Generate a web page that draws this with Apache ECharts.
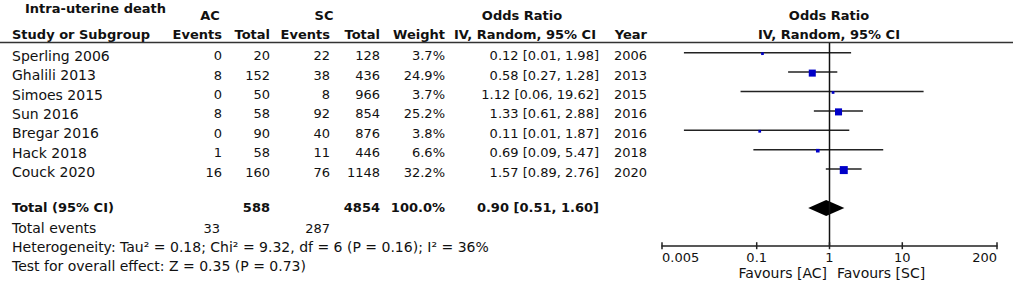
<!DOCTYPE html>
<html>
<head>
<meta charset="utf-8">
<title>Intra-uterine death forest plot</title>
<script src="https://cdn.jsdelivr.net/npm/echarts@6/dist/echarts.min.js"></script>
<style>
  html, body { margin: 0; padding: 0; background: #fff; }
  #chart { width: 1013px; height: 282px; }
</style>
</head>
<body>
<div id="chart"></div>
<script>
  // 研究数据
  let studies = ['Sperling 2006', 'Ghalili 2013', 'Simoes 2015', 'Sun 2016', 'Bregar 2016', 'Hack 2018', 'Couck 2020'];
  let acEvents = [0, 8, 0, 8, 0, 1, 16];
  let acTotal = [20, 152, 50, 58, 90, 58, 160];
  let scEvents = [22, 38, 8, 92, 40, 11, 76];
  let scTotal = [128, 436, 966, 854, 876, 446, 1148];
  let weights = [3.7, 24.9, 3.7, 25.2, 3.8, 6.6, 32.2];
  let oddsRatio = [0.12, 0.58, 1.12, 1.33, 0.11, 0.69, 1.57];
  let ciLow = [0.01, 0.27, 0.06, 0.61, 0.01, 0.09, 0.89];
  let ciHigh = [1.98, 1.28, 19.62, 2.88, 1.87, 5.47, 2.76];
  let years = [2006, 2013, 2015, 2016, 2016, 2018, 2020];

  // 合计
  let totalAC = 588;
  let totalSC = 4854;
  let totalEventsAC = 33;
  let totalEventsSC = 287;
  let totalOR = 0.90;
  let totalLow = 0.51;
  let totalHigh = 1.60;
  let totalRow = 8;

  let axisTicks = [0.005, 0.1, 1, 10, 200];
  let noEffect = 1;

  let chart = echarts.init(document.getElementById('chart'), null, {renderer: 'svg'});
  let font = '"DejaVu Sans", sans-serif';
  let fs = 13;     // 数字
  let fsText = 14; // 文字
  let yMin = -0.5;
  let yMax = 9.95;

  // y pixel of a row in the plot grid (grid top 43, 19.4px per row, min -0.5)
  function rowY(r) {
    return 43 + (r - yMin) * 19.4;
  }

  function txt(x, y, s, align, bold, size) {
    return {
      type: 'text',
      x: x,
      y: y,
      silent: true,
      style: {
        text: s,
        fill: '#111',
        font: (bold ? 'bold ' : '') + (size || fs) + 'px ' + font,
        textAlign: align || 'left',
        textVerticalAlign: 'middle'
      }
    };
  }

  // 表格文字
  let g = [];
  g.push(txt(25, 8, 'Intra-uterine death', 'left', true));
  g.push(txt(210, 15, 'AC', 'center', true));
  g.push(txt(324, 15, 'SC', 'center', true));
  g.push(txt(522, 15, 'Odds Ratio', 'center', true));
  g.push(txt(829, 15, 'Odds Ratio', 'center', true));
  g.push(txt(12, 34, 'Study or Subgroup', 'left', true));
  g.push(txt(222, 34, 'Events', 'right', true));
  g.push(txt(270, 34, 'Total', 'right', true));
  g.push(txt(330, 34, 'Events', 'right', true));
  g.push(txt(380, 34, 'Total', 'right', true));
  g.push(txt(445, 34, 'Weight', 'right', true));
  g.push(txt(525, 34, 'IV, Random, 95% CI', 'center', true));
  g.push(txt(647, 34, 'Year', 'right', true));
  g.push(txt(829, 34, 'IV, Random, 95% CI', 'center', true));

  for (let i = 0; i < studies.length; i++) {
    let y = rowY(i) + 3;
    g.push(txt(12, y, studies[i], 'left', false, fsText));
    g.push(txt(222, y, String(acEvents[i]), 'right'));
    g.push(txt(270, y, String(acTotal[i]), 'right'));
    g.push(txt(330, y, String(scEvents[i]), 'right'));
    g.push(txt(380, y, String(scTotal[i]), 'right'));
    g.push(txt(445, y, weights[i].toFixed(1) + '%', 'right'));
    g.push(txt(599, y, oddsRatio[i].toFixed(2) + ' [' + ciLow[i].toFixed(2) + ', ' + ciHigh[i].toFixed(2) + ']', 'right'));
    g.push(txt(647, y, String(years[i]), 'right'));
  }

  let ty = rowY(totalRow);
  g.push(txt(12, ty, 'Total (95% CI)', 'left', true));
  g.push(txt(270, ty, String(totalAC), 'right', true));
  g.push(txt(380, ty, String(totalSC), 'right', true));
  g.push(txt(445, ty, '100.0%', 'right', true));
  g.push(txt(599, ty, totalOR.toFixed(2) + ' [' + totalLow.toFixed(2) + ', ' + totalHigh.toFixed(2) + ']', 'right', true));
  g.push(txt(12, 228, 'Total events', 'left', false, fsText));
  g.push(txt(220, 228, String(totalEventsAC), 'right'));
  g.push(txt(330, 228, String(totalEventsSC), 'right'));
  g.push(txt(12, 247, 'Heterogeneity: Tau\u00b2 = 0.18; Chi\u00b2 = 9.32, df = 6 (P = 0.16); I\u00b2 = 36%', 'left', false, fsText));
  g.push(txt(12, 266, 'Test for overall effect: Z = 0.35 (P = 0.73)', 'left', false, fsText));
  g.push(txt(827, 273, 'Favours [AC]', 'right', false, fsText));
  g.push(txt(837, 273, 'Favours [SC]', 'left', false, fsText));

  // 表头下面的横线
  g.push({
    type: 'line',
    silent: true,
    shape: {x1: 0, y1: 42.5, x2: 1013, y2: 42.5},
    style: {stroke: '#333', lineWidth: 1.5}
  });

  let studyData = [];
  for (let i = 0; i < studies.length; i++) {
    studyData.push([ciLow[i], ciHigh[i], oddsRatio[i], i, weights[i]]);
  }

  let option = {
    animation: false,
    textStyle: {fontFamily: font},
    graphic: g,
    grid: {left: 662, right: 16, top: 43, bottom: 36.3},
    xAxis: {
      type: 'log',
      logBase: 10,
      min: 0.005,
      max: 200,
      axisLine: {onZero: false, lineStyle: {color: '#222', width: 1.5}},
      axisTick: {show: false},
      axisLabel: {
        customValues: axisTicks,
        margin: 5,
        color: '#111',
        fontSize: fs,
        fontFamily: font,
        alignMinLabel: 'left',
        alignMaxLabel: 'right',
        formatter: function (v) { return String(v); }
      },
      splitLine: {show: false}
    },
    yAxis: {
      type: 'value',
      inverse: true,
      min: yMin,
      max: yMax,
      show: false
    },
    series: [{
      type: 'custom',
      name: 'studies',
      data: studyData,
      encode: {x: [0, 1, 2], y: 3},
      renderItem: function (params, api) {
        let p1 = api.coord([api.value(0), api.value(3)]);
        let p2 = api.coord([api.value(1), api.value(3)]);
        let pc = api.coord([api.value(2), api.value(3)]);
        let s = Math.sqrt(api.value(4)) * 1.41;
        return {
          type: 'group',
          children: [{
            type: 'line',
            shape: {x1: p1[0], y1: p1[1], x2: p2[0], y2: p2[1]},
            style: {stroke: '#222', lineWidth: 1.5}
          }, {
            type: 'rect',
            shape: {x: pc[0] - s / 2, y: pc[1] - s / 2 + 1, width: s, height: s},
            style: {fill: '#0000c8'}
          }]
        };
      }
    }, {
      type: 'custom',
      name: 'total',
      data: [[totalLow, totalHigh, totalOR, totalRow]],
      encode: {x: [0, 1, 2], y: 3},
      renderItem: function (params, api) {
        let p1 = api.coord([api.value(0), api.value(3)]);
        let p2 = api.coord([api.value(1), api.value(3)]);
        let pc = api.coord([api.value(2), api.value(3)]);
        return {
          type: 'polygon',
          shape: {points: [[p1[0], p1[1]], [pc[0], pc[1] - 8], [p2[0], p2[1]], [pc[0], pc[1] + 8]]},
          style: {fill: '#000'}
        };
      }
    }]
  };

  chart.setOption(option);

  // 用轴的比例尺换算像素
  let xLeftPx = chart.convertToPixel({xAxisIndex: 0}, 0.005);
  let xRightPx = chart.convertToPixel({xAxisIndex: 0}, 200);
  function xPixel(v) {
    let p = chart.convertToPixel({xAxisIndex: 0}, v);
    // log 轴上 1 附近换算出来不对，取 v/10 和 v*10 的中点（对数刻度上正好在中间）
    if (v === 1 || !isFinite(p) || p < xLeftPx - 1 || p > xRightPx + 1) {
      let a = chart.convertToPixel({xAxisIndex: 0}, v / 10);
      let b = chart.convertToPixel({xAxisIndex: 0}, v * 10);
      p = (a + b) / 2;
    }
    return p;
  }
  let yTopPx = chart.convertToPixel({yAxisIndex: 0}, yMin);
  let yBottomPx = chart.convertToPixel({yAxisIndex: 0}, yMax);

  // OR = 1 的竖线
  let xOne = xPixel(noEffect);
  g.push({
    type: 'line',
    silent: true,
    z: 10,
    shape: {x1: xOne, y1: yTopPx, x2: xOne, y2: yBottomPx},
    style: {stroke: '#111', lineWidth: 1.5}
  });
  // 刻度（上下穿过轴线）
  axisTicks.forEach(function (v) {
    let px = xPixel(v);
    g.push({
      type: 'line',
      silent: true,
      z: 10,
      shape: {x1: px, y1: yBottomPx - 3.5, x2: px, y2: yBottomPx + 3.5},
      style: {stroke: '#222', lineWidth: 1.5}
    });
  });
  chart.setOption({graphic: g});
</script>
</body>
</html>
